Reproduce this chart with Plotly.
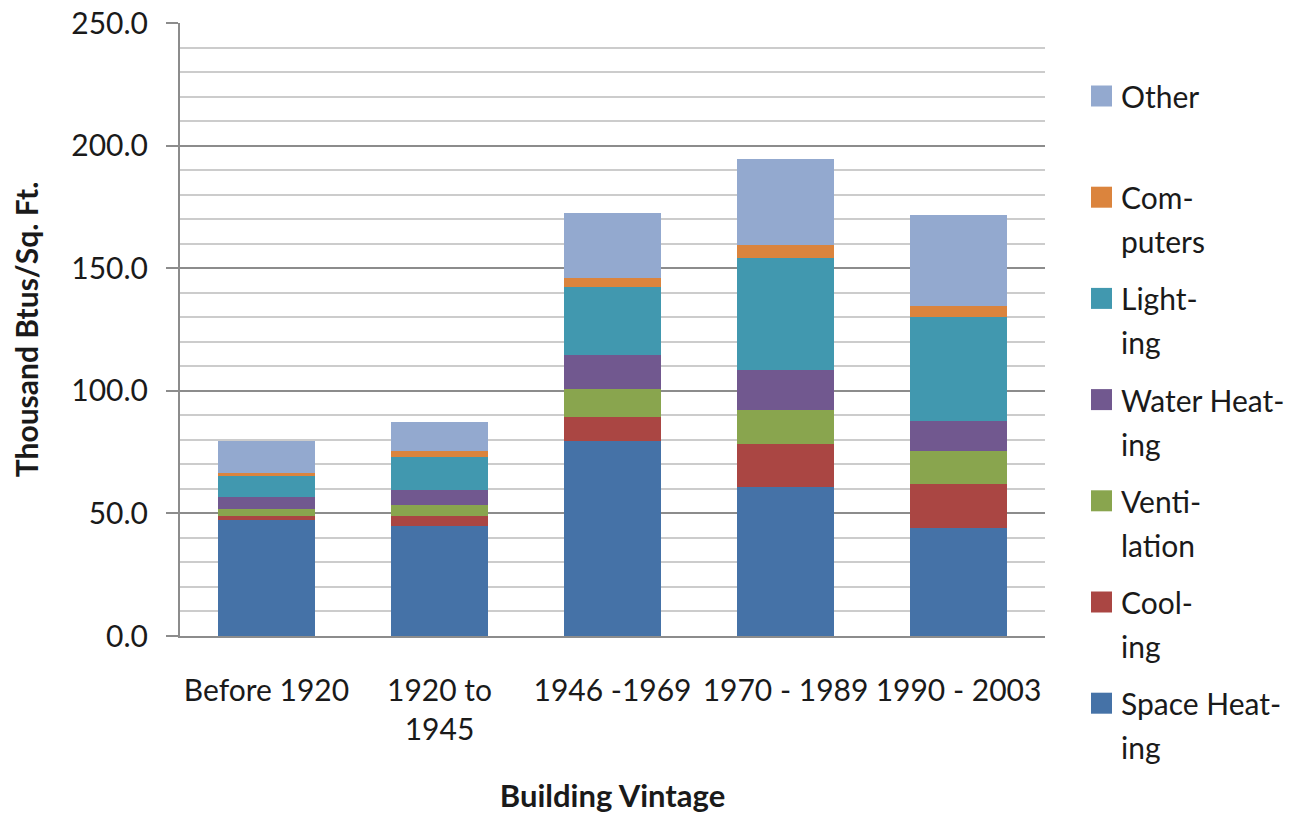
import plotly.graph_objects as go

categories = ["Before 1920", "1920 to<br>1945", "1946 -1969", "1970 - 1989", "1990 - 2003"]

series_names = ["Space Heating", "Cooling", "Ventilation", "Water Heating", "Lighting", "Computers", "Other"]
legend_lines = [["Space Heat-", "ing"], ["Cool-", "ing"], ["Venti-", "lation"], ["Water Heat-", "ing"],
                ["Light-", "ing"], ["Com-", "puters"], ["Other"]]
space_heating = [47.2, 44.9, 79.5, 60.8, 44.2]
cooling = [1.9, 4.0, 9.9, 17.5, 17.8]
ventilation = [2.7, 4.4, 11.3, 13.7, 13.4]
water_heating = [4.8, 6.2, 13.9, 16.5, 12.2]
lighting = [8.7, 13.3, 27.6, 45.5, 42.6]
computers = [1.0, 2.8, 3.9, 5.3, 4.4]
other = [13.2, 11.7, 26.3, 35.1, 37.1]
series_values = [space_heating, cooling, ventilation, water_heating, lighting, computers, other]
colors = ["#4572A7", "#AA4643", "#89A54E", "#71588F", "#4198AF", "#DB843D", "#93A9CF"]

FONT = "Lato"
TXT = "#1a1a1a"
FS = 30

W, H = 1297, 814
ML, MR, MT, MB = 180, 252, 23, 178
PW, PH = W - ML - MR, H - MT - MB


def px_x(px):
    return (px - ML) / PW


def px_y(py):
    return (H - MB - py) / PH


fig = go.Figure()
for name, vals, col in zip(series_names, series_values, colors):
    fig.add_trace(go.Bar(x=categories, y=vals, name=name,
                         marker=dict(color=col, line=dict(width=0))))

# Manual legend (Other at top, Space Heating at bottom)
shapes, annotations = [], []
row0, row_step, line_step = 96, 101.2, 44
for k, idx in enumerate(reversed(range(len(series_names)))):
    cy = row0 + k * row_step
    shapes.append(dict(type="rect", xref="paper", yref="paper",
                       x0=px_x(1091), x1=px_x(1112), y0=px_y(cy - 10.5), y1=px_y(cy + 10.5),
                       fillcolor=colors[idx], line=dict(width=0)))
    for j, line in enumerate(legend_lines[idx]):
        annotations.append(dict(text=line, xref="paper", yref="paper",
                                x=px_x(1119), y=px_y(cy + j * line_step),
                                xanchor="left", yanchor="middle", showarrow=False,
                                font=dict(family=FONT, size=FS, color=TXT)))

fig.update_layout(
    width=W, height=H,
    barmode="stack", bargap=0.44,
    plot_bgcolor="white", paper_bgcolor="white",
    margin=dict(l=ML, r=MR, t=MT, b=MB, autoexpand=False),
    font=dict(family=FONT, size=FS, color=TXT),
    showlegend=False,
    shapes=shapes, annotations=annotations,
    xaxis=dict(
        showline=True, linecolor="#8c8c8c", linewidth=2,
        ticks="", ticklabelstandoff=27, automargin=False,
        tickfont=dict(family=FONT, size=FS, color=TXT),
        title=dict(text="<b>Building Vintage</b>", font=dict(family=FONT, size=31, color=TXT), standoff=43),
    ),
    yaxis=dict(
        range=[0, 250], dtick=50, tickformat=".1f", automargin=False,
        showline=True, linecolor="#8c8c8c", linewidth=2,
        ticks="outside", ticklen=12, tickcolor="#8c8c8c", tickwidth=2,
        ticklabelstandoff=12,
        showgrid=True, gridcolor="#8c8c8c", gridwidth=2,
        zeroline=False,
        minor=dict(dtick=10, showgrid=True, gridcolor="#cccccc", gridwidth=2, ticks=""),
        tickfont=dict(family=FONT, size=FS, color=TXT),
        title=dict(text="<b>Thousand Btus/Sq. Ft.</b>", font=dict(family=FONT, size=30, color=TXT), standoff=24),
    ),
)

fig.write_html("out.html")
